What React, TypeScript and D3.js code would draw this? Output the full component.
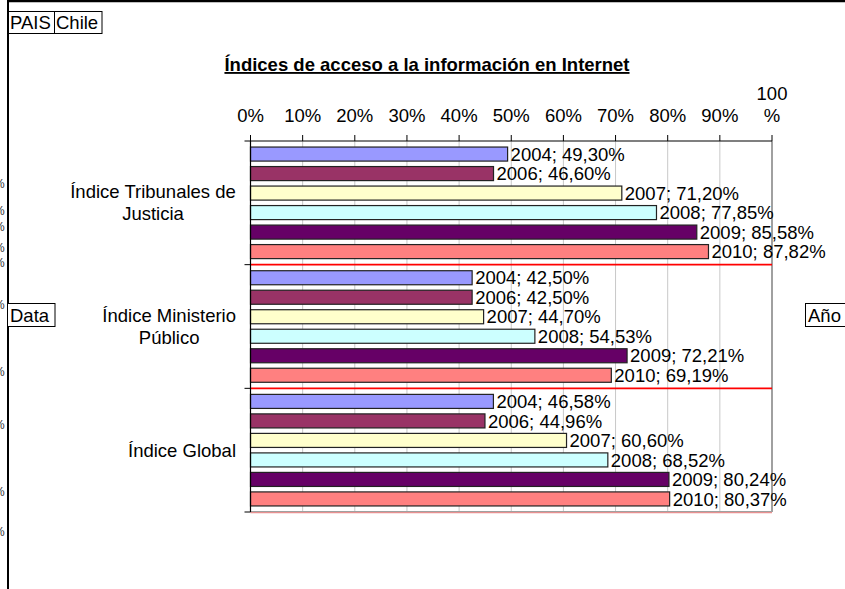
import React from "react";
import * as d3 from "d3";

const CATEGORIES = ["Índice Tribunales de Justicia", "Índice Ministerio Público", "Índice Global"];
const CATEGORY_LINES = [["Índice Tribunales de", "Justicia"], ["Índice Ministerio", "Público"], ["Índice Global"]];
const YEARS = ["2004", "2006", "2007", "2008", "2009", "2010"];
const S2004 = [49.3, 42.5, 46.58];
const S2006 = [46.6, 42.5, 44.96];
const S2007 = [71.2, 44.7, 60.6];
const S2008 = [77.85, 54.53, 68.52];
const S2009 = [85.58, 72.21, 80.24];
const S2010 = [87.82, 69.19, 80.37];
const SERIES = [S2004, S2006, S2007, S2008, S2009, S2010];
const COLORS = ["#9999FF", "#993366", "#FFFFCC", "#CCFFFF", "#660066", "#FF8080"];
const TICK_VALUES = [0, 10, 20, 30, 40, 50, 60, 70, 80, 90, 100];
const TITLE = "Índices de acceso a la información en Internet";
const EDGE_MARKS = [184, 211, 227, 248, 263, 305, 372, 425, 492, 532];

const W = 845;
const H = 589;
const FONT = "'Liberation Sans', Arial, sans-serif";
const FS = 18.5;

function measure(text: string, font: string): number {
  const c = document.createElement("canvas");
  const ctx = c.getContext("2d");
  if (!ctx) return text.length * 9;
  ctx.font = font;
  return ctx.measureText(text).width;
}

function fmtPct(v: number): string {
  return v.toFixed(2).replace(".", ",") + "%";
}

export default function App() {
  const x = d3.scaleLinear().domain([0, 100]).range([250.5, 772]);
  const y = d3.scaleBand<string>().domain(CATEGORIES).range([141, 512]);
  const inner = d3
    .scaleBand<string>()
    .domain(YEARS)
    .range([0, y.bandwidth()])
    .paddingInner(0.28)
    .paddingOuter(0.31);

  const top = y.range()[0];
  const bottom = y.range()[1];
  const left = x.range()[0];
  const right = x.range()[1];
  const labelRight = 236;
  const font = `${FS}px 'Liberation Sans'`;

  return (
    <svg
      width={W}
      height={H}
      style={{ position: "absolute", left: 0, top: 0, background: "#fff" }}
      fontFamily={FONT}
    >
      <rect x={0} y={0} width={W} height={H} fill="#fff" />
      {/* frame */}
      <line x1={8} y1={1} x2={W} y2={1} stroke="#000" strokeWidth={2.5} />
      <line x1={8} y1={0} x2={8} y2={H} stroke="#000" strokeWidth={2} />

      {/* edge fragments */}
      {EDGE_MARKS.map((yy, i) => (
        <text key={"em" + i} x={-6} y={yy} dy="0.35em" fontSize={12} fill="#333">
          %
        </text>
      ))}

      {/* PAIS / Chile */}
      <rect x={8.5} y={11.5} width={46} height={22} fill="#fff" stroke="#000" strokeWidth={1} />
      <rect x={54.5} y={11.5} width={47.5} height={22} fill="#fff" stroke="#000" strokeWidth={1} />
      <text x={10} y={28.5} fontSize={FS}>PAIS</text>
      <text x={56} y={28.5} fontSize={FS}>Chile</text>

      {/* Data / Año */}
      <rect x={7.5} y={303.5} width={47.5} height={23} fill="#fff" stroke="#000" strokeWidth={1} />
      <text x={10} y={321.5} fontSize={FS}>Data</text>
      <rect x={805.5} y={303.5} width={50} height={23} fill="#fff" stroke="#000" strokeWidth={1} />
      <text x={808} y={321.5} fontSize={FS}>Año</text>

      {/* title */}
      <text
        x={427}
        y={71}
        textAnchor="middle"
        fontSize={18.5}
        fontWeight="bold"
        textDecoration="underline"
      >
        {TITLE}
      </text>

      {/* gridlines */}
      {TICK_VALUES.slice(1, -1).map((t) => (
        <line key={"g" + t} x1={x(t)} x2={x(t)} y1={top} y2={bottom} stroke="#c8c8c8" strokeWidth={1} />
      ))}
      <line x1={right} x2={right} y1={top} y2={bottom} stroke="#808080" strokeWidth={1.5} />

      {/* bars */}
      {CATEGORIES.map((cat, ci) => (
        <g key={cat} transform={`translate(0,${y(cat)})`}>
          {SERIES.map((s, si) => {
            const by = inner(YEARS[si]) as number;
            const bh = inner.bandwidth();
            const v = s[ci];
            return (
              <g key={YEARS[si]}>
                <rect
                  x={left}
                  y={by}
                  width={x(v) - left}
                  height={bh}
                  fill={COLORS[si]}
                  stroke="#222"
                  strokeWidth={1.2}
                />
                <text x={x(v) + 3} y={by + bh / 2} dy="0.36em" fontSize={FS}>
                  {`${YEARS[si]}; ${fmtPct(v)}`}
                </text>
              </g>
            );
          })}
        </g>
      ))}

      {/* red separators */}
      {CATEGORIES.slice(1).map((cat) => (
        <line key={"r" + cat} x1={left} x2={right} y1={y(cat)} y2={y(cat)} stroke="#ff0000" strokeWidth={1.6} />
      ))}
      <line x1={left} x2={right} y1={bottom + 0.5} y2={bottom + 0.5} stroke="#e89090" strokeWidth={1.5} />
      <line x1={left} x2={right} y1={bottom - 0.5} y2={bottom - 0.5} stroke="#a0a0a0" strokeWidth={1} />

      {/* axes */}
      <line x1={left} x2={right} y1={top} y2={top} stroke="#000" strokeWidth={1.2} />
      <line x1={left} x2={left} y1={top} y2={bottom} stroke="#000" strokeWidth={1.2} />
      {TICK_VALUES.map((t) => (
        <line key={"t" + t} x1={x(t)} x2={x(t)} y1={top - 6} y2={top} stroke="#000" strokeWidth={1} />
      ))}
      {[...CATEGORIES.map((c) => y(c) as number), bottom].map((yy, i) => (
        <line key={"ct" + i} x1={left - 6} x2={left} y1={yy} y2={yy} stroke="#000" strokeWidth={1} />
      ))}

      {/* tick labels */}
      {TICK_VALUES.map((t) =>
        t === 100 ? (
          <text key={"tl" + t} x={x(t)} y={122} textAnchor="middle" fontSize={FS}>
            <tspan x={x(t)} dy={-22}>100</tspan>
            <tspan x={x(t)} dy={22}>%</tspan>
          </text>
        ) : (
          <text key={"tl" + t} x={x(t)} y={122} textAnchor="middle" fontSize={FS}>
            {`${t}%`}
          </text>
        )
      )}

      {/* category labels */}
      {CATEGORIES.map((cat, ci) => {
        const lines = CATEGORY_LINES[ci];
        const maxW = Math.max(...lines.map((l) => measure(l, font)));
        const cx = labelRight - maxW / 2;
        const cy = (y(cat) as number) + y.bandwidth() / 2;
        const lh = 22;
        const y0 = cy - ((lines.length - 1) * lh) / 2;
        return (
          <text key={"cl" + cat} textAnchor="middle" fontSize={FS}>
            {lines.map((l, li) => (
              <tspan key={li} x={cx} y={y0 + li * lh} dy="0.36em">
                {l}
              </tspan>
            ))}
          </text>
        );
      })}
    </svg>
  );
}
